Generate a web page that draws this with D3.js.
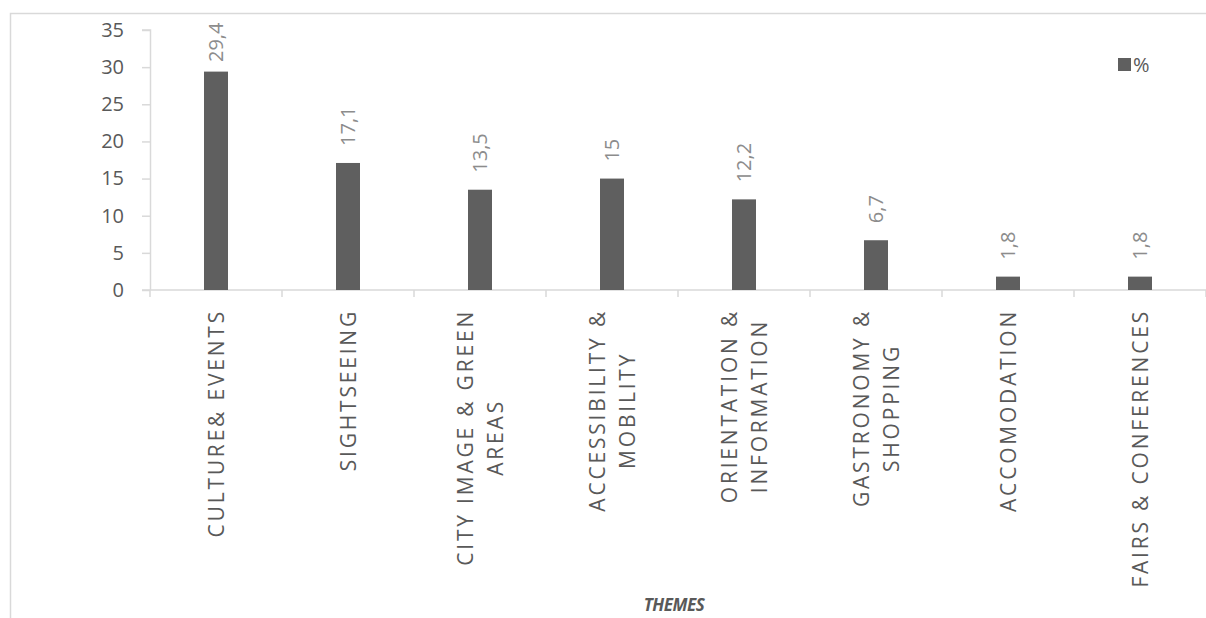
<!DOCTYPE html>
<html>
<head>
<meta charset="utf-8">
<script src="https://cdn.jsdelivr.net/npm/d3@7"></script>
<style>
  html, body { margin: 0; padding: 0; background: #fff; }
  svg { display: block; }
</style>
</head>
<body>
<svg id="chart" width="1206" height="618"></svg>
<script>
// Share of mentions per theme (%)
const themes = [
  ["CULTURE& EVENTS"],
  ["SIGHTSEEING"],
  ["CITY IMAGE & GREEN", "AREAS"],
  ["ACCESSIBILITY &", "MOBILITY"],
  ["ORIENTATION &", "INFORMATION"],
  ["GASTRONOMY &", "SHOPPING"],
  ["ACCOMODATION"],
  ["FAIRS & CONFERENCES"]
];
const percent = [29.4, 17.1, 13.5, 15, 12.2, 6.7, 1.8, 1.8];
const yTicks = [0, 5, 10, 15, 20, 25, 30, 35];
const seriesName = "%";
const axisTitle = "THEMES";

const W = 1206, H = 618;
const plot = { left: 150, right: 1206, top: 30, bottom: 290 };
const textColor = "#595959";
const labelColor = "#8c8c8c";
const barColor = "#5f5f5f";
const lineColor = "#d9d9d9";
const font = "'Open Sans', 'DejaVu Sans', sans-serif";

const svg = d3.select("#chart").style("font-family", font);

// outer chart frame (top and left edges visible)
svg.append("path")
  .attr("d", `M10.5,${H} V13.5 H${W}`)
  .attr("fill", "none")
  .attr("stroke", lineColor)
  .attr("stroke-width", 1.5);

const keys = themes.map((d, i) => i);
const x = d3.scaleBand().domain(keys).range([plot.left, plot.right]).paddingInner(0).paddingOuter(0);
const y = d3.scaleLinear().domain([0, 35]).range([plot.bottom, plot.top]);

// y axis
const yAxis = svg.append("g")
  .attr("transform", `translate(${plot.left},0)`)
  .call(d3.axisLeft(y).tickValues(yTicks).tickSize(8).tickPadding(18));
yAxis.select(".domain").attr("stroke", lineColor).attr("stroke-width", 1.5).attr("d", `M-8,${y(35)}H0.5V${y(0)}`);
yAxis.selectAll(".tick line").attr("stroke", lineColor).attr("stroke-width", 1.5);
yAxis.selectAll(".tick text")
  .attr("fill", textColor)
  .style("font-size", "20px")
  .style("font-family", font);

// x axis with tick marks at category boundaries
const xg = svg.append("g").attr("transform", `translate(0,${plot.bottom})`);
xg.append("line")
  .attr("x1", plot.left - 8).attr("x2", plot.right)
  .attr("stroke", lineColor).attr("stroke-width", 1.5);
const bounds = keys.map(k => x(k)).concat([plot.right]);
xg.selectAll("line.tk").data(bounds).join("line")
  .attr("class", "tk")
  .attr("x1", d => d).attr("x2", d => d)
  .attr("y1", 0).attr("y2", 7)
  .attr("stroke", lineColor).attr("stroke-width", 1.5);

// bars
const barW = 24;
svg.append("g").selectAll("rect").data(percent).join("rect")
  .attr("x", (d, i) => x(i) + x.bandwidth() / 2 - barW / 2)
  .attr("y", d => y(d))
  .attr("width", barW)
  .attr("height", d => y(0) - y(d))
  .attr("fill", barColor);

// value labels, rotated, above each bar (kept inside the plot's top edge)
const fmt = v => String(v).replace(".", ",");
svg.append("g").selectAll("text").data(percent).join("text")
  .attr("transform", (d, i) => {
    const cx = x(i) + x.bandwidth() / 2;
    const base = Math.max(y(d) - 17, 62);
    return `translate(${cx},${base}) rotate(-90)`;
  })
  .attr("dy", "0.36em")
  .attr("fill", labelColor)
  .style("font-size", "20px")
  .text(d => fmt(d));

// category labels, rotated, lines centred against the longest line
const catG = svg.append("g");
themes.forEach((lines, i) => {
  const cx = x(i) + x.bandwidth() / 2;
  const g = catG.append("g");
  const texts = lines.map((ln, j) => g.append("text")
    .attr("fill", textColor)
    .style("font-size", "21px")
    .style("letter-spacing", "2.8px")
    .attr("text-anchor", "middle")
    .attr("dy", "0.36em")
    .text(ln));
  const maxLen = d3.max(texts, t => t.node().getComputedTextLength());
  const top = 309;
  texts.forEach((t, j) => {
    const lx = cx + (j - (lines.length - 1) / 2) * 30;
    t.attr("transform", `translate(${lx},${top + maxLen / 2}) rotate(-90)`);
  });
});

// axis title
svg.append("text")
  .attr("x", (plot.left + plot.right) / 2 - 4)
  .attr("y", 611)
  .attr("text-anchor", "middle")
  .attr("fill", textColor)
  .style("font-size", "17px")
  .style("font-weight", "bold")
  .style("font-style", "italic")
  .style("letter-spacing", "-0.5px")
  .text(axisTitle);

// legend
const lg = svg.append("g").attr("transform", "translate(1118,58)");
lg.append("rect").attr("width", 13).attr("height", 13).attr("fill", barColor);
lg.append("text").attr("x", 15).attr("y", 6.5).attr("dy", "0.36em")
  .attr("fill", textColor).style("font-size", "20px").text(seriesName);
</script>
</body>
</html>
